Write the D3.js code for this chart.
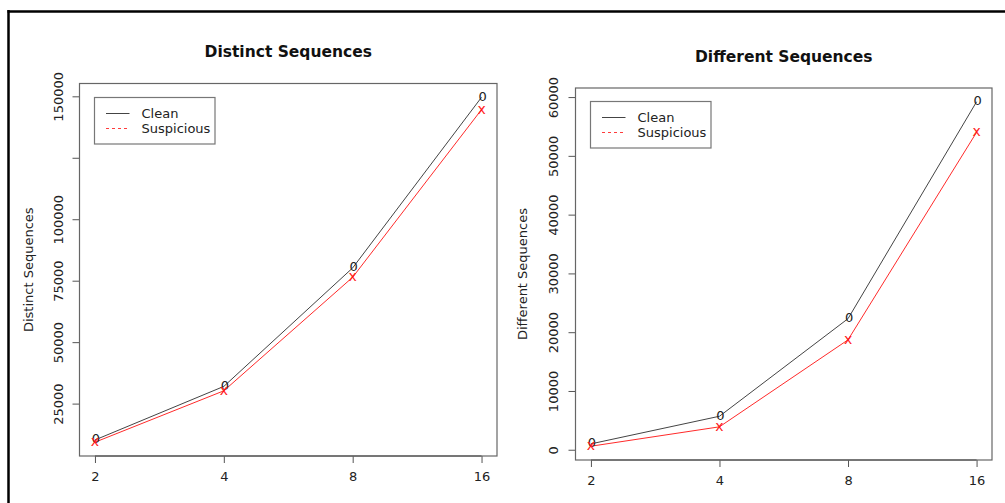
<!DOCTYPE html>
<html>
<head>
<meta charset="utf-8">
<script src="https://cdn.jsdelivr.net/npm/d3@7"></script>
<style>
  body { margin: 0; background: #fff; }
  svg { display: block; font-family: "DejaVu Sans", sans-serif; }
</style>
</head>
<body>
<svg width="1005" height="503"></svg>
<script>
// Data
const xValues = [2, 4, 8, 16];
const xTickLabels = ["2", "4", "8", "16"];

const distinctClean = [10200, 32000, 80200, 149600];
const distinctSuspicious = [9300, 30200, 76400, 144600];
const distinctTicks = [25000, 50000, 75000, 100000, 125000, 150000];
const distinctTickLabels = ["25000", "50000", "75000", "100000", "", "150000"];

const differentClean = [1000, 5700, 22300, 59200];
const differentSuspicious = [600, 3900, 18700, 54000];
const differentTicks = [0, 10000, 20000, 30000, 40000, 50000, 60000];
const differentTickLabels = ["0", "10000", "20000", "30000", "40000", "50000", "60000"];

const seriesNames = ["Clean", "Suspicious"];

const svg = d3.select("svg");

// Outer frame (top and left edges only)
svg.append("line").attr("x1", 7.5).attr("x2", 1005).attr("y1", 11.5).attr("y2", 11.5)
  .attr("stroke", "#000").attr("stroke-width", 2.5);
svg.append("line").attr("x1", 8.5).attr("x2", 8.5).attr("y1", 10).attr("y2", 503)
  .attr("stroke", "#000").attr("stroke-width", 2.5);

function drawPanel(p) {
  const g = svg.append("g");

  // R style 4% padding on both axes
  const xs = d3.scaleLog().base(2)
    .domain([Math.pow(2, 0.88), Math.pow(2, 4.12)])
    .range([p.left, p.right]);

  const all = p.clean.concat(p.suspicious);
  const lo = d3.min(all), hi = d3.max(all);
  const pad = (hi - lo) * 0.04;
  const ys = d3.scaleLinear().domain([lo - pad, hi + pad]).range([p.bottom, p.top]);

  // title
  g.append("text")
    .attr("x", (p.left + p.right) / 2)
    .attr("y", p.titleY)
    .attr("text-anchor", "middle")
    .attr("dominant-baseline", "central")
    .attr("font-size", 15.5)
    .attr("font-weight", "bold")
    .attr("fill", "#111")
    .text(p.title);

  // y label
  g.append("text")
    .attr("transform", `translate(${p.ylabelX},${(p.top + p.bottom) / 2}) rotate(-90)`)
    .attr("text-anchor", "middle")
    .attr("dominant-baseline", "central")
    .attr("font-size", 13)
    .attr("fill", "#222")
    .text(p.title);

  // x axis
  const xAxis = g.append("g")
    .attr("transform", `translate(0,${p.bottom})`)
    .call(d3.axisBottom(xs).tickValues(xValues).tickSize(7).tickPadding(9)
      .tickFormat((d, i) => xTickLabels[i]));
  xAxis.select(".domain")
    .attr("d", `M${xs(xValues[0])},0H${xs(xValues[xValues.length - 1])}`)
    .attr("stroke", "#222");
  xAxis.selectAll(".tick line").attr("stroke", "#555");
  xAxis.selectAll(".tick text").attr("font-size", 13).attr("fill", "#222")
    .attr("font-family", "DejaVu Sans");

  // y axis
  const yAxis = g.append("g")
    .attr("transform", `translate(${p.left},0)`)
    .call(d3.axisLeft(ys).tickValues(p.ticks).tickSize(7)
      .tickFormat((d, i) => p.tickLabels[i]));
  yAxis.select(".domain")
    .attr("d", `M0,${ys(p.ticks[0])}V${ys(p.ticks[p.ticks.length - 1])}`)
    .attr("stroke", "#444");
  yAxis.selectAll(".tick line").attr("stroke", "#555");
  yAxis.selectAll(".tick text")
    .attr("x", null).attr("dy", null)
    .attr("text-anchor", "middle")
    .attr("dominant-baseline", "central")
    .attr("transform", `translate(${p.tickLabelX - p.left},0) rotate(-90)`)
    .attr("font-size", 13).attr("fill", "#222")
    .attr("font-family", "DejaVu Sans");

  // plot box
  g.append("rect")
    .attr("x", p.left).attr("y", p.top)
    .attr("width", p.right - p.left).attr("height", p.bottom - p.top)
    .attr("fill", "none").attr("stroke", "#666").attr("stroke-width", 1.2);

  const line = d3.line().x((d, i) => xs(xValues[i])).y(d => ys(d));

  g.append("path").datum(p.clean)
    .attr("d", line).attr("fill", "none").attr("stroke", "#444").attr("stroke-width", 1);
  g.append("path").datum(p.suspicious)
    .attr("d", line).attr("fill", "none").attr("stroke", "#ff2a2a").attr("stroke-width", 1);

  g.selectAll(".pc").data(p.clean).enter().append("text")
    .attr("x", (d, i) => xs(xValues[i]) + 1)
    .attr("y", d => ys(d) - 1)
    .attr("text-anchor", "middle")
    .attr("dominant-baseline", "central")
    .attr("font-size", 13)
    .attr("fill", "#222")
    .text("0");
  g.selectAll(".ps").data(p.suspicious).enter().append("text")
    .attr("x", (d, i) => xs(xValues[i]))
    .attr("y", d => ys(d) - 1)
    .attr("text-anchor", "middle")
    .attr("dominant-baseline", "central")
    .attr("font-size", 14)
    .attr("fill", "#ff1a1a")
    .text("x");

  // legend
  const lg = g.append("g");
  lg.append("rect")
    .attr("x", p.legend.x).attr("y", p.legend.y)
    .attr("width", 120.5).attr("height", 46.5)
    .attr("fill", "#fff").attr("stroke", "#777").attr("stroke-width", 1.2);
  seriesNames.forEach((name, i) => {
    const yy = p.legend.y + 16 + i * 15;
    lg.append("line")
      .attr("x1", p.legend.x + 11.5).attr("x2", p.legend.x + 35)
      .attr("y1", yy).attr("y2", yy)
      .attr("stroke", i === 0 ? "#444" : "#ff3b3b")
      .attr("stroke-width", 1)
      .attr("stroke-dasharray", i === 0 ? null : "3,3");
    lg.append("text")
      .attr("x", p.legend.x + 47).attr("y", yy)
      .attr("dominant-baseline", "central")
      .attr("font-size", 13).attr("fill", "#222")
      .text(name);
  });
}

drawPanel({
  title: "Distinct Sequences",
  left: 79.5, right: 497, top: 83.5, bottom: 456,
  titleY: 52, ylabelX: 28, tickLabelX: 58,
  clean: distinctClean, suspicious: distinctSuspicious,
  ticks: distinctTicks, tickLabels: distinctTickLabels,
  legend: { x: 94.5, y: 97.5 }
});

drawPanel({
  title: "Different Sequences",
  left: 575.5, right: 992, top: 88, bottom: 460,
  titleY: 56.5, ylabelX: 522, tickLabelX: 553,
  clean: differentClean, suspicious: differentSuspicious,
  ticks: differentTicks, tickLabels: differentTickLabels,
  legend: { x: 590.5, y: 101.5 }
});
</script>
</body>
</html>
